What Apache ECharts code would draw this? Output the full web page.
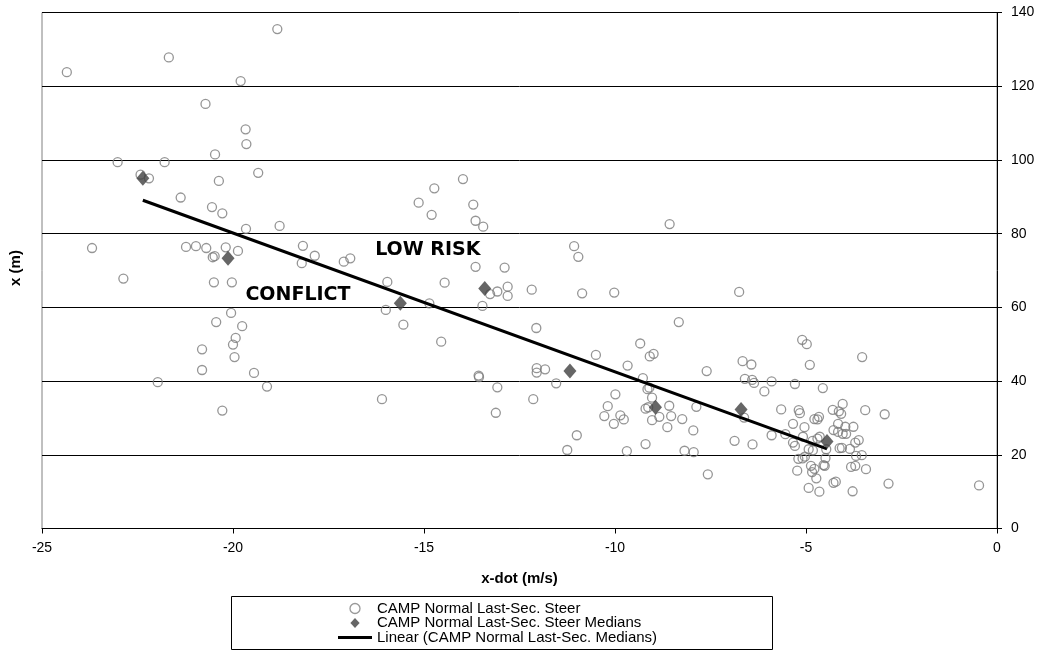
<!DOCTYPE html>
<html>
<head>
<meta charset="utf-8">
<script src="https://cdn.jsdelivr.net/npm/echarts@6/dist/echarts.min.js"></script>
<style>
html,body{margin:0;padding:0;background:#fff;}
#chart{width:1044px;height:653px;}
</style>
</head>
<body>
<div id="chart"></div>
<script>
// ---- data ----
var xTicks = [-25, -20, -15, -10, -5, 0];
var yTicks = [0, 20, 40, 60, 80, 100, 120, 140];

var steerX = [
-24.35,-21.68,-18.84,-19.8,-20.72,-19.67,-19.65,-20.47,-23.02,-21.79,
-22.42,-22.2,-19.34,-20.37,-21.37,-20.55,-20.28,-19.66,-18.78,-18.17,
-17.86,-17.1,-16.93,-23.69,-21.23,-20.97,-20.7,-20.19,-19.87,-20.53,
-20.48,-18.2,-22.87,-20.5,-20.03,-20.05,-20.44,-19.76,-19.93,-20.0,
-20.81,-19.96,-20.81,-19.45,-21.97,-19.11,-20.28,
-13.98,-14.73,-15.14,-13.71,-14.8,-13.65,-13.45,-8.57,-11.07,-10.96,
-13.65,-12.89,-15.96,-14.46,-13.27,-13.08,-12.81,-12.81,-12.18,-10.86,
-10.02,-16.0,-14.86,-13.47,-15.54,-8.33,-12.06,-14.55,-9.34,-9.09,
-8.99,-10.5,-9.67,-12.05,-12.05,-11.83,-13.57,-13.56,-9.27,-13.08,
-11.54,-9.15,-9.1,-9.99,-9.03,-16.1,-12.14,-9.2,-9.13,-8.58,
-10.19,-10.28,-9.86,-9.77,-10.03,-8.84,-8.53,-8.63,-8.24,-9.03,
-13.12,-11.0,-9.2,-11.25,-9.69,-8.18,
-6.75,-5.1,-4.98,-3.53,-6.66,-6.43,-7.6,-4.9,-6.6,-6.41,
-6.36,-5.9,-6.09,-5.29,-4.56,-4.04,-6.62,-7.87,-7.95,-7.94,
-7.57,-6.87,-6.4,-5.9,-5.65,-5.19,-5.16,-5.34,-5.04,-5.54,
-5.34,-5.29,-5.08,-4.78,-4.66,-4.7,-4.3,-4.14,-4.08,-4.16,
-4.28,-4.16,-3.97,-3.76,-4.04,-3.95,-3.45,-2.94,-4.83,-4.7,
-4.64,-4.93,-4.82,-4.47,-4.12,-4.06,-3.85,-3.71,-3.62,-3.69,
-3.54,-5.2,-5.09,-5.03,-4.49,-4.54,-4.87,-4.78,-4.84,-5.23,
-4.51,-3.82,-3.71,-3.43,-4.73,-4.28,-4.22,-4.93,-4.65,-3.78,
-2.84,-0.47
];
var steerY = [
123.8,127.8,135.5,121.4,115.2,108.3,104.3,101.5,99.4,99.4,
96.0,95.0,96.5,94.3,89.8,87.2,85.5,81.3,82.1,76.7,
74.0,72.4,73.3,76.1,76.4,76.6,76.1,76.3,75.3,73.6,
73.9,72.0,67.8,66.8,66.8,58.5,56.0,54.9,51.7,49.9,
48.6,46.5,43.0,42.2,39.7,38.5,32.0,
94.8,92.3,88.4,87.9,85.1,83.5,81.9,82.6,76.6,73.7,
71.0,70.8,66.9,66.7,63.6,64.3,65.6,63.1,64.8,63.8,
64.0,59.3,61.1,60.4,55.3,56.0,54.4,50.7,50.2,46.7,
47.4,47.1,44.2,43.5,42.3,43.2,41.5,41.1,40.8,38.3,
39.4,37.8,38.2,36.4,35.5,35.1,35.1,32.5,32.9,33.3,
33.2,30.5,30.7,29.6,28.4,30.3,30.5,27.5,29.7,29.4,
31.4,25.3,22.9,21.3,21.0,21.1,
64.2,51.2,50.0,46.5,45.4,44.5,42.7,44.4,40.6,40.3,
39.5,39.9,37.2,39.2,38.1,33.8,30.1,33.0,26.6,20.7,
14.7,23.8,22.8,25.3,32.3,32.1,31.3,28.4,27.5,25.6,
23.3,22.4,24.9,29.7,30.3,29.6,32.2,31.8,31.1,28.4,
26.7,26.2,27.6,27.6,25.7,25.7,32.1,31.0,23.8,24.4,
24.9,21.5,21.2,21.5,21.8,21.9,21.6,23.3,24.0,19.7,
19.9,18.9,19.0,19.5,19.1,17.2,17.0,16.2,15.3,15.7,
17.0,16.7,17.0,16.1,13.6,12.4,12.7,11.0,10.0,10.1,
12.2,11.7
];

var medianX = [-22.36, -20.13, -15.62, -13.41, -11.18, -8.94, -6.70, -4.45];
var medianY = [95.0, 73.3, 61.1, 65.1, 42.7, 32.9, 32.3, 23.6];

var annotationText = ['LOW RISK', 'CONFLICT'];
var annotationX = [-14.9, -18.3];
var annotationY = [75.5, 63.4];

var seriesNames = ['CAMP Normal Last-Sec. Steer', 'CAMP Normal Last-Sec. Steer Medians', 'Linear (CAMP Normal Last-Sec. Medians)'];

// ---- build ----
function zip(a, b) { return a.map(function (v, i) { return [v, b[i]]; }); }

// least squares fit of medians (trendline)
var n = medianX.length, mx = 0, my = 0;
for (var i = 0; i < n; i++) { mx += medianX[i]; my += medianY[i]; }
mx /= n; my /= n;
var sxy = 0, sxx = 0;
for (i = 0; i < n; i++) { sxy += (medianX[i] - mx) * (medianY[i] - my); sxx += (medianX[i] - mx) * (medianX[i] - mx); }
var slope = sxy / sxx, icpt = my - slope * mx;
var xMin = Math.min.apply(null, medianX), xMax = Math.max.apply(null, medianX);
var trend = [[xMin, icpt + slope * xMin], [xMax, icpt + slope * xMax]];

var FONT = 'Liberation Sans, Arial, sans-serif';

var chart = echarts.init(document.getElementById('chart'), null, { renderer: 'canvas' });
var baseGraphics = [
  { id: 'lgbox', type: 'rect', silent: true, z: -1, shape: { x: 231.5, y: 596.5, width: 541, height: 53 }, style: { fill: '#fff', stroke: '#000', lineWidth: 1 } },
  { id: 'ytitle', type: 'text', x: 16, y: 268, rotation: Math.PI / 2, silent: true,
    style: { text: 'x (m)', fill: '#000', font: 'bold 15px ' + FONT, textAlign: 'center', textVerticalAlign: 'middle' } }
];
chart.setOption({
  animation: false,
  backgroundColor: '#fff',
  grid: { left: 42, right: 47, top: 12.5, bottom: 124.5, show: true, borderColor: '#808080', borderWidth: 1, backgroundColor: 'transparent' },
  xAxis: {
    type: 'value', min: xTicks[0], max: xTicks[xTicks.length - 1], interval: 5,
    axisLine: { show: true, onZero: false, lineStyle: { color: '#000', width: 1 } },
    axisTick: { show: true, length: 5, lineStyle: { color: '#000' } },
    axisLabel: { color: '#000', fontSize: 14, fontFamily: FONT, margin: 13 },
    splitLine: { show: false },
    name: 'x-dot (m/s)', nameLocation: 'middle', nameGap: 43,
    nameTextStyle: { color: '#000', fontSize: 15, fontWeight: 'bold', fontFamily: FONT }
  },
  yAxis: {
    type: 'value', position: 'right', min: yTicks[0], max: yTicks[yTicks.length - 1], interval: 20,
    axisLine: { show: true, onZero: false, lineStyle: { color: '#000', width: 1 } },
    axisTick: { show: true, length: 5, lineStyle: { color: '#000' } },
    axisLabel: { color: '#000', fontSize: 14, fontFamily: FONT, margin: 14 },
    splitLine: { show: true, lineStyle: { color: '#000', width: 1 } }
  },
  legend: {
    orient: 'vertical', left: 338, top: 601, padding: 0,
    itemWidth: 34, itemHeight: 10, itemGap: -0.5, symbolKeepAspect: true,
    textStyle: { color: '#000', fontSize: 15, fontFamily: FONT, lineHeight: 13 },
    data: [
      { name: seriesNames[0], icon: 'circle', itemStyle: { color: 'rgba(0,0,0,0)', borderColor: '#808080', borderWidth: 1.3 } },
      { name: seriesNames[1], icon: 'path://M6,0L12,6.5L6,13L0,6.5Z', itemStyle: { color: '#404040' } },
      { name: seriesNames[2], icon: 'path://M0,0L34,0L34,3L0,3Z', itemStyle: { color: '#000', borderWidth: 0 } }
    ]
  },
  graphic: baseGraphics,
  series: [
    {
      name: seriesNames[0], type: 'scatter', symbol: 'circle', symbolSize: 9, z: 2,
      itemStyle: { color: 'rgba(0,0,0,0)', borderColor: '#7a7a7a', borderWidth: 1.3 },
      data: zip(steerX, steerY)
    },
    {
      name: seriesNames[2], type: 'line', symbol: 'none', z: 3,
      lineStyle: { color: '#000', width: 3 }, itemStyle: { color: '#000' },
      data: trend
    },
    {
      name: seriesNames[1], type: 'scatter', symbol: 'diamond', symbolSize: [13, 15], z: 4,
      itemStyle: { color: '#404040' },
      data: zip(medianX, medianY)
    }
  ]
});

// annotation texts placed at data coordinates through the chart's scales
var annGraphics = annotationText.map(function (t, i) {
  var p = chart.convertToPixel({ gridIndex: 0 }, [annotationX[i], annotationY[i]]);
  return { id: 'ann' + i, type: 'text', x: p[0], y: p[1], silent: true, z: 10,
    style: { text: t, fill: '#000', font: 'bold 19px DejaVu Sans, sans-serif', textAlign: 'center', textVerticalAlign: 'middle' } };
});
chart.setOption({ graphic: baseGraphics.concat(annGraphics) });
</script>
</body>
</html>
